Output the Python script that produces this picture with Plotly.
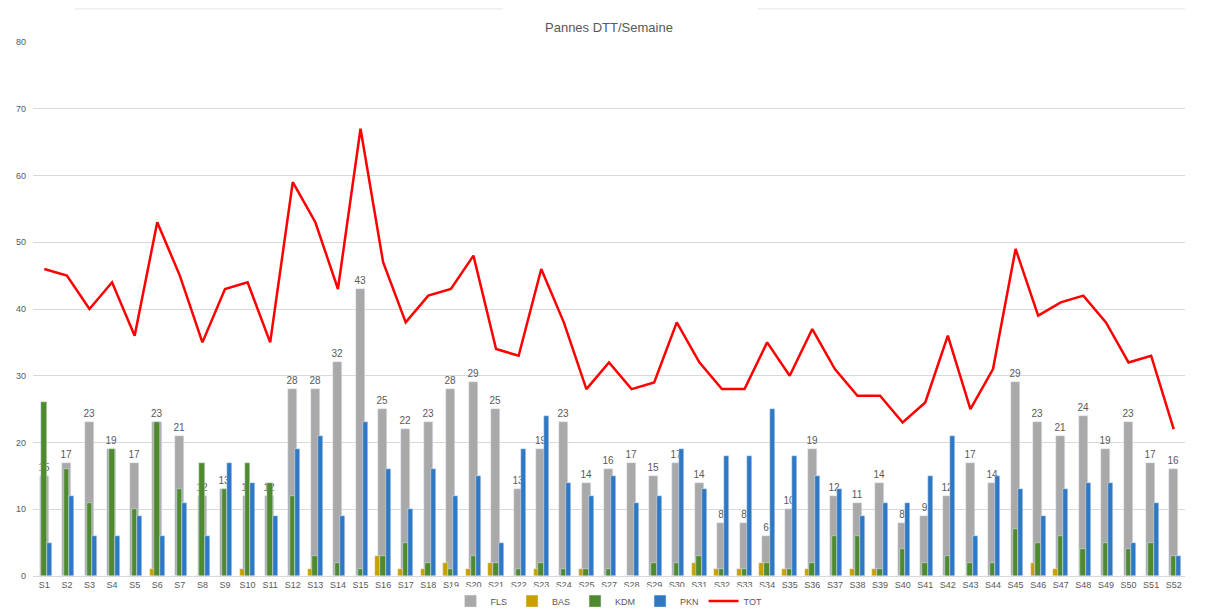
import plotly.graph_objects as go

weeks = [f"S{i}" for i in range(1, 26)] + [f"S{i}" for i in range(27, 53)]

fls = [15, 17, 23, 19, 17, 23, 21, 12, 13, 12, 12, 28, 28, 32, 43, 25, 22, 23, 28, 29, 25, 13, 19, 23, 14,
       16, 17, 15, 17, 14, 8, 8, 6, 10, 19, 12, 11, 14, 8, 9, 12, 17, 14, 29, 23, 21, 24, 19, 23, 17, 16]
bas = [0, 0, 0, 0, 0, 1, 0, 0, 0, 1, 0, 0, 1, 0, 0, 3, 1, 1, 2, 1, 2, 0, 1, 0, 1,
       0, 0, 0, 0, 2, 1, 1, 2, 1, 1, 0, 1, 1, 0, 0, 0, 0, 0, 0, 2, 1, 0, 0, 0, 0, 0]
kdm = [26, 16, 11, 19, 10, 23, 13, 17, 13, 17, 14, 12, 3, 2, 1, 3, 5, 2, 1, 3, 2, 1, 2, 1, 1,
       1, 0, 2, 2, 3, 1, 1, 2, 1, 2, 6, 6, 1, 4, 2, 3, 2, 2, 7, 5, 6, 4, 5, 4, 5, 3]
pkn = [5, 12, 6, 6, 9, 6, 11, 6, 17, 14, 9, 19, 21, 9, 23, 16, 10, 16, 12, 15, 5, 19, 24, 14, 12,
       15, 11, 12, 19, 13, 18, 18, 25, 18, 15, 13, 9, 11, 11, 15, 21, 6, 15, 13, 9, 13, 14, 14, 5, 11, 3]
tot = [46, 45, 40, 44, 36, 53, 45, 35, 43, 44, 35, 59, 53, 43, 67, 47, 38, 42, 43, 48, 34, 33, 46, 38, 28,
       32, 28, 29, 38, 32, 28, 28, 35, 30, 37, 31, 27, 27, 23, 26, 36, 25, 31, 49, 39, 41, 42, 38, 32, 33, 22]

TXT = "#595959"
FONT = "Liberation Sans"

fig = go.Figure()
fig.add_trace(go.Bar(name="FLS", x=weeks, y=fls, marker_color="#A9A9A9", width=0.4, offset=-0.21,
                     text=fls, textposition="outside", cliponaxis=False, constraintext="none",
                     textfont=dict(size=10, color=TXT, family=FONT),
                     outsidetextfont=dict(size=10, color=TXT, family=FONT)))
fig.add_trace(go.Bar(name="BAS", x=weeks, y=bas, marker_color="#C9A000", width=0.22, offset=-0.34))
fig.add_trace(go.Bar(name="KDM", x=weeks, y=kdm, marker_color="#4F8A2E", width=0.24, offset=-0.13))
fig.add_trace(go.Bar(name="PKN", x=weeks, y=pkn, marker_color="#2F78C4", width=0.22, offset=0.11))
fig.add_trace(go.Scatter(name="TOT", x=weeks, y=tot, mode="lines",
                         line=dict(color="#FF0000", width=2.5)))

fig.update_layout(
    width=1208, height=608,
    paper_bgcolor="white", plot_bgcolor="white",
    barmode="overlay",
    margin=dict(l=25, r=31, t=34, b=40, autoexpand=False),
    font=dict(family=FONT, color=TXT, size=10),
    showlegend=True,
    legend=dict(orientation="h", x=0.5, xanchor="center", y=-0.047, yanchor="middle",
                font=dict(size=9, color=TXT), itemwidth=30, tracegroupgap=0),
    bargap=0,
)
fig.add_annotation(text="Pannes DTT/Semaine", xref="paper", yref="paper", x=0.5, y=1.028,
                   xanchor="center", yanchor="middle", showarrow=False,
                   font=dict(size=13, color=TXT, family=FONT))
for x0, x1 in [(0.036, 0.408), (0.629, 1.0)]:
    fig.add_shape(type="line", xref="paper", yref="paper", x0=x0, x1=x1, y0=1.062, y1=1.062,
                  line=dict(color="#E6E6E6", width=1))

fig.update_xaxes(type="category", showgrid=False, showline=True, linecolor="#D9D9D9",
                 ticks="", tickfont=dict(size=9, color=TXT), range=[-0.5, len(weeks) - 0.5],
                 tickangle=0)
fig.update_yaxes(range=[0, 80], dtick=10, showgrid=True, gridcolor="#D9D9D9", gridwidth=1,
                 zeroline=False, showline=False, tickfont=dict(size=9, color=TXT), ticks="",
                 ticklabelstandoff=6)

fig.write_html("out.html")
